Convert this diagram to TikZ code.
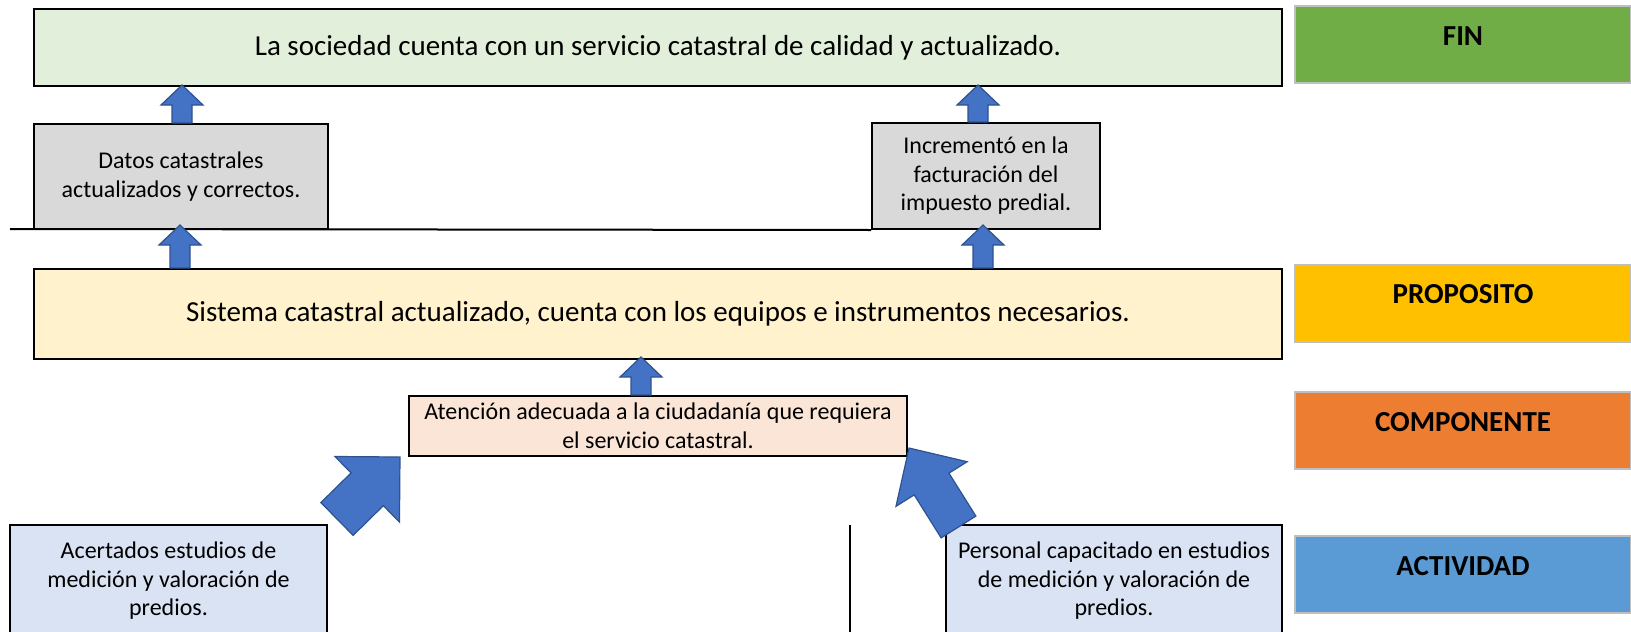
\documentclass[tikz,border=0pt]{standalone}
\usepackage{fontspec}
\setmainfont{Carlito}
\usetikzlibrary{calc}

\definecolor{finfill}{HTML}{E2EFDA}
\definecolor{finlevel}{HTML}{70AD47}
\definecolor{datfill}{HTML}{D9D9D9}
\definecolor{propfill}{HTML}{FFF2CC}
\definecolor{proplevel}{HTML}{FFC000}
\definecolor{compfill}{HTML}{FBE5D6}
\definecolor{complevel}{HTML}{ED7D31}
\definecolor{actfill}{HTML}{DAE3F3}
\definecolor{actlevel}{HTML}{5B9BD5}
\definecolor{levelgray}{HTML}{BFBFBF}
\definecolor{arrfill}{HTML}{4472C4}
\definecolor{arrline}{HTML}{2F528F}

\tikzset{
  box/.style={draw=black, line width=2pt, inner sep=0pt, align=center,
    font=\fontsize{24}{28.5}\selectfont},
  bigbox/.style={box, font=\fontsize{29}{34}\selectfont},
  levelbox/.style={draw=levelgray, line width=2pt, inner sep=0pt,
    minimum width=336pt, minimum height=77pt,
    font=\fontsize{29}{34}\selectfont\bfseries, text height=20pt, text depth=19pt},
  blockarr/.style={fill=arrfill, draw=arrline, line width=1.2pt}
}

% fat arrow from tail to tip: shaft half width, head half width, head length
\newcommand{\blockarrow}[5]{%
  \coordinate (ba-tail) at (#1);
  \coordinate (ba-tip) at (#2);
  \pgfpointdiff{\pgfpointanchor{ba-tail}{center}}{\pgfpointanchor{ba-tip}{center}}%
  \pgfgetlastxy{\badx}{\bady}%
  \pgfmathsetmacro{\baang}{atan2(\bady,\badx)}%
  \pgfmathsetmacro{\balen}{veclen(\badx,\bady)}%
  \pgfmathsetmacro{\babase}{\balen-#5}%
  \draw[blockarr, shift={(ba-tail)}, rotate=\baang]
    (0pt,-#3pt) -- (\babase pt,-#3pt) -- (\babase pt,-#4pt) -- (\balen pt,0pt)
    -- (\babase pt,#4pt) -- (\babase pt,#3pt) -- (0pt,#3pt) -- cycle;
}

\begin{document}
\begin{tikzpicture}[x=1pt, y=-1pt]

\useasboundingbox (0,0) rectangle (1631,632);

% levels on the right
\node[levelbox, fill=finlevel] (finlbl) at (1463,44.5) {FIN};
\node[levelbox, fill=proplevel] (proplbl) at (1463,303) {PROPOSITO};
\node[levelbox, fill=complevel] (complbl) at (1463,430.5) {COMPONENTE};
\node[levelbox, fill=actlevel] (actlbl) at (1463,574.5) {ACTIVIDAD};

% fin
\node[bigbox, fill=finfill, minimum width=1248pt, minimum height=77pt] (fin) at (658,47.5)
  {La sociedad cuenta con un servicio catastral de calidad y actualizado.};
\node[box, fill=datfill, minimum width=294pt, minimum height=105pt] (datos) at (181,176.5)
  {Datos catastrales\\actualizados y correctos.};
\node[box, fill=datfill, minimum width=228pt, minimum height=106pt] (incr) at (986,176)
  {Incrementó en la\\facturación del\\impuesto predial.};
\coordinate (lineL) at (10,229);
\draw[line width=2pt] (lineL) -- (incr.south west);

% proposito and componente
\node[bigbox, fill=propfill, minimum width=1248pt, minimum height=90pt] (sist) at (658,314)
  {Sistema catastral actualizado, cuenta con los equipos e instrumentos necesarios.};
\node[box, fill=compfill, minimum width=498pt, minimum height=60pt] (aten) at (658,426)
  {Atención adecuada a la ciudadanía que requiera\\el servicio catastral.};

% actividades
\node[box, fill=actfill, minimum width=317pt, minimum height=112pt] (acert) at (168.5,581)
  {Acertados estudios de\\medición y valoración de\\predios.};
\node[box, fill=actfill, minimum width=336pt, minimum height=112pt] (pers) at (1114,581)
  {Personal capacitado en estudios\\de medición y valoración de\\predios.};
\coordinate (vtop) at (850,525);
\coordinate (vbot) at (850,632);
\draw[line width=2pt] (vtop) -- (vbot);

% arrows
\blockarrow{$(datos.north)+(1,0)$}{$(datos.north |- fin.south)+(1,-2)$}{10}{21}{20}
\blockarrow{$(incr.north)+(-8,0)$}{$(incr.north |- fin.south)+(-8,-2)$}{10}{21}{20}
\blockarrow{$(datos.south |- sist.north)+(-1,0)$}{$(datos.south)+(-1,-5)$}{10}{21}{20}
\blockarrow{$(incr.south |- sist.north)+(-3,0)$}{$(incr.south)+(-3,-5)$}{10}{21}{20}
\blockarrow{$(aten.north)+(-17,0)$}{$(aten.north |- sist.south)+(-17,-3)$}{10}{21}{20}
\blockarrow{$(acert.north east)+(9,-5)$}{$(aten.south west)+(-8,0)$}{23}{46}{46}
\blockarrow{$(pers.north west)+(13.5,3)$}{$(aten.south east)+(1,-9)$}{20.5}{42}{42.5}

\end{tikzpicture}
\end{document}
